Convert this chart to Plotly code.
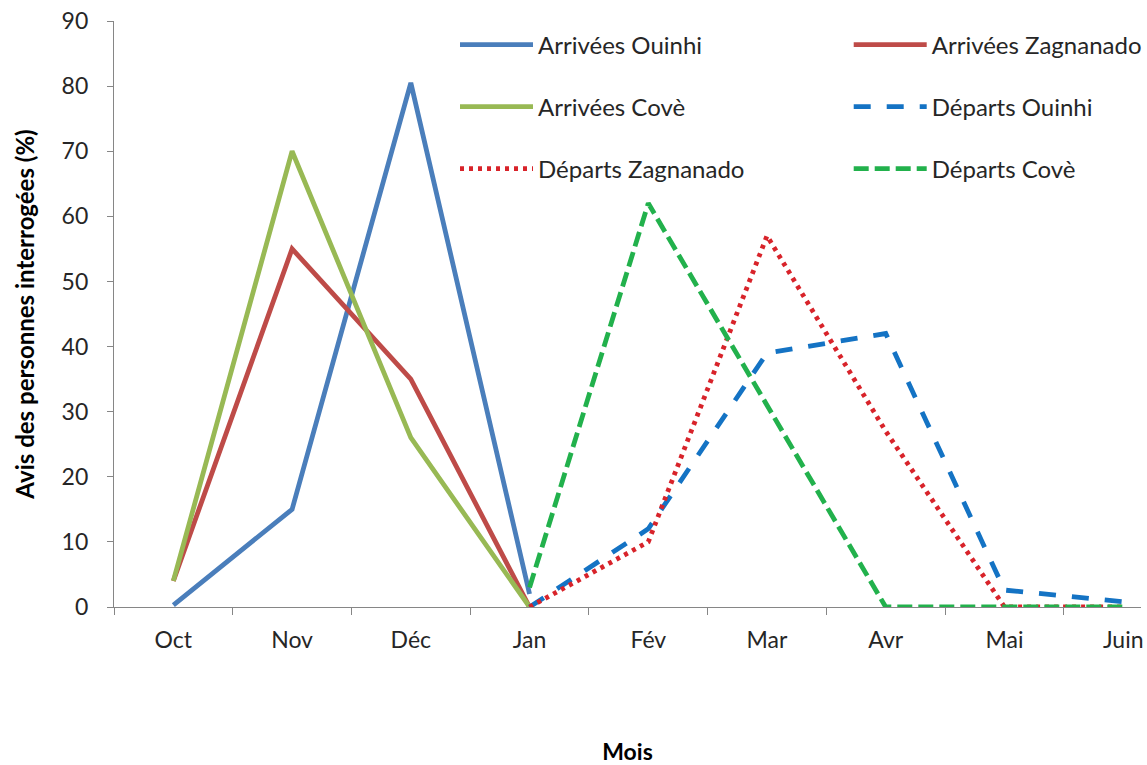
import plotly.graph_objects as go

# Months (category axis)
mois = ["Oct", "Nov", "Déc", "Jan", "Fév", "Mar", "Avr", "Mai", "Juin"]

# Arrivals (Oct -> Jan)
arrivees_ouinhi = [0.3, 15, 80.5, 2]
arrivees_zagnanado = [4, 55, 35, 0]
arrivees_cove = [4, 70, 26, 0]

# Departures (Jan -> Juin)
departs_ouinhi = [0, 12, 39, 42, 2.6, 0.8]
departs_zagnanado = [0, 10, 57, 27, 0, 0]
departs_cove = [3, 62, 31, 0, 0, 0]

FONT = "Lato, 'Open Sans', sans-serif"
TXT = "#262626"

series = [
    ("Arrivées Ouinhi", mois[:4], arrivees_ouinhi, "#4A7EBB", None),
    ("Arrivées Zagnanado", mois[:4], arrivees_zagnanado, "#BE4B48", None),
    ("Arrivées Covè", mois[:4], arrivees_cove, "#98B954", None),
    ("Départs Ouinhi", mois[3:], departs_ouinhi, "#1473C4", "17px,16px"),
    ("Départs Zagnanado", mois[3:], departs_zagnanado, "#D8232A", "4px,5px"),
    ("Départs Covè", mois[3:], departs_cove, "#22B14C", "15px,6px"),
]

# plot area in pixels: x 114..1147, y 21..607
L, R, T, B = 114, 0, 21, 158
W, H = 1147, 765
pw, ph = W - L - R, H - T - B

def px_x(p):
    return (p - L) / pw

def px_y(p):
    return (H - B - p) / ph

legend_pos = [(457, 45), (853, 45), (457, 107), (853, 107), (457, 169), (853, 169)]

fig = go.Figure()
layout_legends = {}
for i, (name, xs, ys, color, dash) in enumerate(series):
    key = "legend" if i == 0 else f"legend{i + 1}"
    fig.add_trace(go.Scatter(
        x=xs, y=ys, name=name, mode="lines",
        line=dict(color=color, width=4.8, dash=dash or "solid"),
        legend=key, hoverinfo="x+y+name",
    ))
    lx, ly = legend_pos[i]
    layout_legends[key] = dict(
        x=px_x(lx), y=px_y(ly), xanchor="left", yanchor="middle",
        bgcolor="rgba(0,0,0,0)", font=dict(family=FONT, size=24, color=TXT),
        itemwidth=73,
    )

fig.update_layout(
    width=W, height=H,
    margin=dict(l=L, r=R, t=T, b=B),
    paper_bgcolor="white", plot_bgcolor="white",
    font=dict(family=FONT, size=23, color=TXT),
    showlegend=True,
    **layout_legends,
)

fig.update_xaxes(
    type="category", categoryorder="array", categoryarray=mois,
    range=[-0.5, 8.15], tickson="boundaries",
    ticks="outside", ticklen=7, tickcolor="#868686", tickwidth=1,
    showline=True, linecolor="#868686", linewidth=1.3,
    showgrid=False, zeroline=False, ticklabelstandoff=12,
    tickfont=dict(family=FONT, size=23, color=TXT),
    title=dict(text="<b>Mois</b>", font=dict(family=FONT, size=23, color="black"), standoff=94),
)
fig.update_yaxes(
    range=[0, 90], dtick=10, tick0=0,
    ticks="outside", ticklen=6, tickcolor="#868686", tickwidth=1,
    showline=True, linecolor="#868686", linewidth=1.3,
    showgrid=False, zeroline=False, ticklabelstandoff=14,
    tickfont=dict(family=FONT, size=23, color=TXT),
    title=dict(text="<b>Avis des personnes interrogées (%)</b>",
               font=dict(family=FONT, size=24, color="black"), standoff=20),
)

fig.write_html("out.html")
